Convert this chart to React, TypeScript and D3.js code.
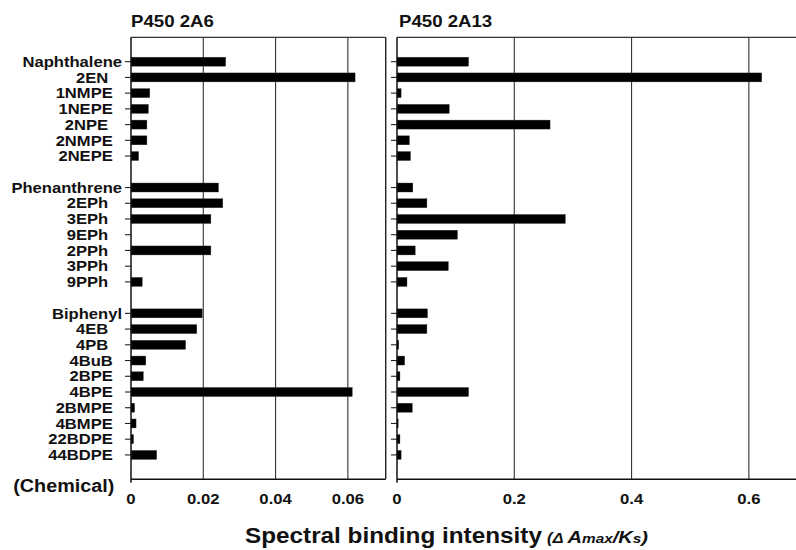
import React from 'react'
import * as d3 from 'd3'

// chemicals, blank slots ("") separate the three groups
// trailing spaces kept as in the original sheet labels
const chemicals = [
  'Naphthalene', '2EN\u00a0\u00a0\u00a0', '1NMPE\u00a0\u00a0', '1NEPE\u00a0\u00a0', '2NPE\u00a0\u00a0\u00a0', '2NMPE\u00a0\u00a0', '2NEPE\u00a0\u00a0',
  '',
  'Phenanthrene', '2EPh\u00a0\u00a0\u00a0', '3EPh\u00a0\u00a0\u00a0', '9EPh\u00a0\u00a0\u00a0', '2PPh\u00a0\u00a0\u00a0', '3PPh\u00a0\u00a0\u00a0', '9PPh\u00a0\u00a0\u00a0',
  '',
  'Biphenyl', '4EB\u00a0\u00a0\u00a0', '4PB\u00a0\u00a0\u00a0', '4BuB\u00a0\u00a0', '2BPE\u00a0\u00a0', '4BPE\u00a0\u00a0', '2BMPE\u00a0\u00a0', '4BMPE\u00a0\u00a0', '22BDPE\u00a0\u00a0', '44BDPE\u00a0\u00a0',
]

const p2A6 = [
  0.0262, 0.0620, 0.0052, 0.0048, 0.0044, 0.0044, 0.0021,
  null,
  0.0242, 0.0254, 0.0221, 0, 0.0221, 0, 0.0031,
  null,
  0.0197, 0.0182, 0.0151, 0.0041, 0.0034, 0.0612, 0.0010, 0.0014, 0.0007, 0.0071,
]

const p2A13 = [
  0.122, 0.622, 0.007, 0.089, 0.261, 0.021, 0.023,
  null,
  0.027, 0.051, 0.287, 0.103, 0.031, 0.0875, 0.017,
  null,
  0.052, 0.051, 0.003, 0.013, 0.005, 0.122, 0.026, 0.002, 0.005, 0.007,
]

const ticks2A6 = [0, 0.02, 0.04, 0.06]
const ticks2A13 = [0, 0.2, 0.4, 0.6]

const FONT = '"Liberation Sans", Arial, Helvetica, sans-serif'

function T(props: any) {
  const { x, y, sx = 1.15, size, anchor = 'start', italic, children } = props
  return (
    <text
      transform={`translate(${x},${y}) scale(${sx},1)`}
      fontSize={size}
      fontWeight="bold"
      fontStyle={italic ? 'italic' : 'normal'}
      textAnchor={anchor}
      fontFamily={FONT}
      fill="#111"
    >
      {children}
    </text>
  )
}

export default function App() {
  const width = 796
  const height = 550
  const top = 37.3
  const bottom = 479.3

  const y = d3.scaleBand<number>()
    .domain(d3.range(chemicals.length))
    .range([top, bottom])
    .paddingInner(0.43)
    .paddingOuter(1.265)

  const xL = d3.scaleLinear().domain([0, 0.07]).range([131, 384])
  const xR = d3.scaleLinear().domain([0, 0.7]).range([397, 807.5])
  const leftRight = 385.7

  const panel = (x: any, values: (number | null)[], ticks: number[], right: number, key: string) => (
    <g key={key}>
      {ticks.slice(1).map(t => (
        <line key={t} x1={x(t)} x2={x(t)} y1={top} y2={bottom} stroke="#333" strokeWidth={1.1} />
      ))}
      {values.map((v, i) => v === null ? null : (
        <rect key={i} x={x(0)} y={y(i)} width={Math.max(0, x(v) - x(0))} height={y.bandwidth()}
          fill="#000" stroke="#333" strokeWidth={0.4} />
      ))}
      {values.map((v, i) => v === null ? null : (
        <line key={'t' + i} x1={x(0) - 6} x2={x(0)} y1={y(i)! + y.bandwidth() / 2} y2={y(i)! + y.bandwidth() / 2}
          stroke="#222" strokeWidth={1.1} />
      ))}
      <line x1={x(0)} x2={right} y1={top} y2={top} stroke="#333" strokeWidth={1.3} />
      <line x1={x(0)} x2={right} y1={bottom} y2={bottom} stroke="#111" strokeWidth={1.6} />
      <line x1={x(0)} x2={x(0)} y1={top} y2={bottom + 3.5} stroke="#111" strokeWidth={1.5} />
      {ticks.map(t => (
        <T key={'l' + t} x={x(t)} y={504} size={14.5} sx={1.15} anchor="middle">{String(t)}</T>
      ))}
    </g>
  )

  return (
    <svg width={width} height={height} style={{ position: 'absolute', left: 0, top: 0, background: '#fff' }}>
      {panel(xL, p2A6, ticks2A6, leftRight, 'a6')}
      <line x1={leftRight} x2={leftRight} y1={top} y2={bottom} stroke="#222" strokeWidth={1.4} />
      {panel(xR, p2A13, ticks2A13, width, 'a13')}

      {chemicals.map((c, i) => c === '' ? null : (
        <T key={i} x={122} y={y(i)! + y.bandwidth() / 2 + 5.2} size={15.5} sx={1.07} anchor="end">{c}</T>
      ))}

      <T x={131} y={26.7} size={16.5} sx={1.13}>P450 2A6</T>
      <T x={399} y={26.5} size={16.5} sx={1.13}>P450 2A13</T>
      <T x={114.3} y={491.7} size={17.5} sx={1.13} anchor="end">(Chemical)</T>

      <T x={245} y={543.3} size={22.5} sx={1.08}>Spectral binding intensity</T>
      <text transform="translate(547,543.3) scale(1.18,1)" fontFamily={FONT} fontWeight="bold" fontStyle="italic" fill="#111">
        <tspan fontSize={14}>(Δ </tspan>
        <tspan fontSize={17}>A</tspan>
        <tspan fontSize={13}>max</tspan>
        <tspan fontSize={17}>/K</tspan>
        <tspan fontSize={13}>s</tspan>
        <tspan fontSize={17}>)</tspan>
      </text>
    </svg>
  )
}
